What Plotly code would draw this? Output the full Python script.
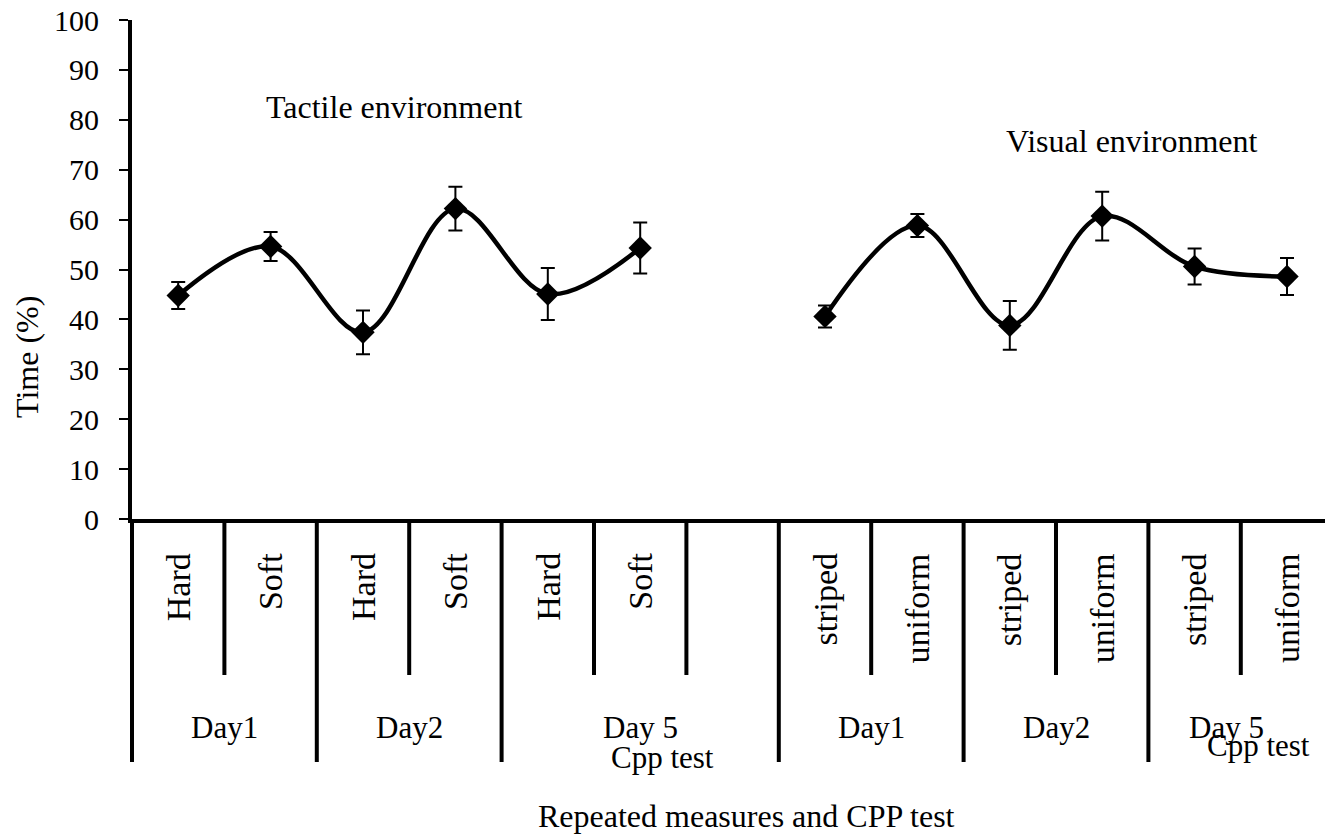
import plotly.graph_objects as go

# ---------------- data ----------------
tactile_labels = ["Hard", "Soft", "Hard", "Soft", "Hard", "Soft"]
tactile_mean = [44.8, 54.6, 37.4, 62.2, 45.1, 54.3]
tactile_err = [2.7, 2.9, 4.4, 4.4, 5.2, 5.1]

visual_labels = ["striped", "uniform", "striped", "uniform", "striped", "uniform"]
visual_mean = [40.6, 58.8, 38.8, 60.7, 50.6, 48.6]
visual_err = [2.2, 2.3, 4.9, 4.9, 3.6, 3.7]

tactile_x = [0, 1, 2, 3, 4, 5]
visual_x = [7, 8, 9, 10, 11, 12]

day_groups = [  # (label, first slot, last slot)
    ("Day1", 0, 1), ("Day2", 2, 3), ("Day 5", 4, 6),
    ("Day1", 7, 8), ("Day2", 9, 10), ("Day 5", 11, 12),
]
y_ticks = [0, 10, 20, 30, 40, 50, 60, 70, 80, 90, 100]

# ---------------- layout constants ----------------
W, H = 1325, 838
L, R, T, B = 132, 1325, 20, 519
SLOT = 92.4
FONT = "Liberation Serif"
x_range = [-0.5, -0.5 + (R - L) / SLOT]
plot_h = B - T


def py(pix):  # pixel y -> paper y
    return (B - pix) / plot_h


def px(pix):  # pixel x -> paper x
    return (pix - L) / (R - L)


fig = go.Figure()

for xs, ys, es in [(tactile_x, tactile_mean, tactile_err),
                   (visual_x, visual_mean, visual_err)]:
    fig.add_trace(go.Scatter(
        x=xs, y=ys, mode="lines+markers",
        line=dict(color="black", width=4.5, shape="spline", smoothing=1.0),
        marker=dict(symbol="diamond", size=18, color="black"),
        error_y=dict(type="data", array=es, visible=True, color="black",
                     thickness=2, width=7),
        showlegend=False, hoverinfo="skip",
    ))

shapes = []
# extended y axis line below the plot
shapes.append(dict(type="line", xref="paper", yref="paper",
                   x0=0, x1=0, y0=0, y1=py(762),
                   line=dict(color="black", width=4)))
# separators
group_edges = set()
for _, a, b in day_groups:
    group_edges.add(b + 0.5)
for i in range(12):
    xb = i + 0.5
    long = xb in group_edges
    shapes.append(dict(type="line", xref="x", yref="paper",
                       x0=xb, x1=xb, y0=0, y1=py(762 if long else 675),
                       line=dict(color="black", width=4)))

annotations = []
for xs, labs in [(tactile_x, tactile_labels), (visual_x, visual_labels)]:
    for xv, lab in zip(xs, labs):
        annotations.append(dict(
            x=xv, y=py(551), xref="x", yref="paper", text=lab,
            textangle=-90, showarrow=False, xanchor="center", yanchor="top",
            font=dict(family=FONT, size=34, color="black")))

for k, (lab, a, b) in enumerate(day_groups):
    xc = (a + b) / 2
    if k == 5:
        xc = (a + b) / 2 - 0.15
    annotations.append(dict(
        x=xc, y=py(727), xref="x", yref="paper", text=lab, showarrow=False,
        xanchor="center", yanchor="middle",
        font=dict(family=FONT, size=31, color="black")))

annotations.append(dict(x=px(662), y=py(757), xref="paper", yref="paper",
                        text="Cpp test", showarrow=False, xanchor="center",
                        yanchor="middle",
                        font=dict(family=FONT, size=31, color="black")))
annotations.append(dict(x=px(1258), y=py(745), xref="paper", yref="paper",
                        text="Cpp test", showarrow=False, xanchor="center",
                        yanchor="middle",
                        font=dict(family=FONT, size=31, color="black")))

annotations.append(dict(x=px(264), y=py(107), xref="paper", yref="paper",
                        text="Tactile environment", showarrow=False,
                        xanchor="left", yanchor="middle",
                        font=dict(family=FONT, size=32, color="black")))
annotations.append(dict(x=px(1004), y=py(141), xref="paper", yref="paper",
                        text="Visual environment", showarrow=False,
                        xanchor="left", yanchor="middle",
                        font=dict(family=FONT, size=32, color="black")))
annotations.append(dict(x=px(27), y=py(357), xref="paper", yref="paper",
                        text="Time (%)", showarrow=False, textangle=-90,
                        xanchor="center", yanchor="middle",
                        font=dict(family=FONT, size=32, color="black")))
annotations.append(dict(x=px(746), y=py(816), xref="paper", yref="paper",
                        text="Repeated measures and CPP test", showarrow=False,
                        xanchor="center", yanchor="middle",
                        font=dict(family=FONT, size=32, color="black")))

fig.update_layout(
    width=W, height=H,
    margin=dict(l=L, r=W - R, t=T, b=H - B),
    paper_bgcolor="white", plot_bgcolor="white",
    shapes=shapes, annotations=annotations,
    xaxis=dict(range=x_range, showgrid=False, zeroline=False,
               showticklabels=False, ticks="", showline=True,
               linecolor="black", linewidth=4),
    yaxis=dict(range=[0, 100], tickvals=y_ticks, showgrid=False,
               zeroline=False, showline=True, linecolor="black", linewidth=4,
               ticks="outside", ticklen=9, tickwidth=2, tickcolor="black",
               ticklabelstandoff=14,
               tickfont=dict(family=FONT, size=30, color="black")),
)

fig.write_html("out.html")
